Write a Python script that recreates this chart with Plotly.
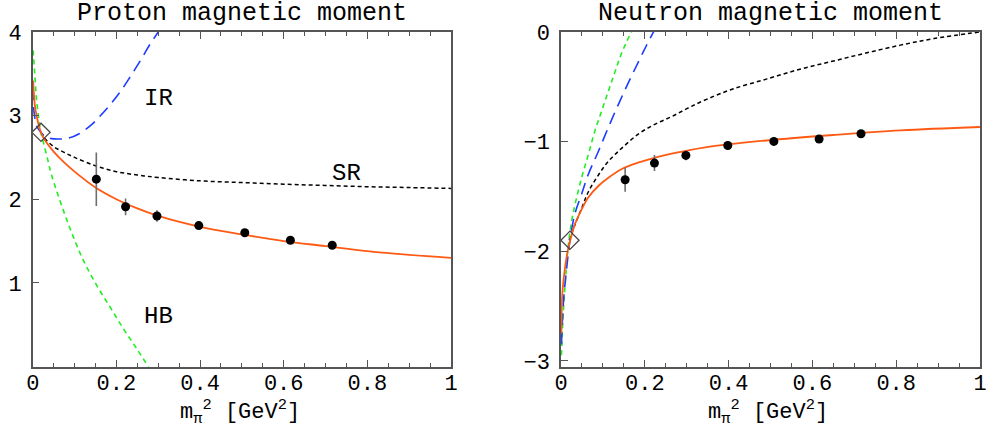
import plotly.graph_objects as go

# ---------------- Proton (left panel) ----------------
p_fit_x = [0.001, 0.005, 0.01, 0.0195, 0.03, 0.05, 0.075, 0.1, 0.15, 0.2, 0.25, 0.3, 0.4, 0.5, 0.6, 0.7, 0.8, 0.9, 1.0]
p_fit_y = [3.42, 3.13, 2.98, 2.80, 2.70, 2.57, 2.44, 2.33, 2.14, 2.00, 1.89, 1.80, 1.67, 1.58, 1.50, 1.44, 1.38, 1.335, 1.30]

p_ir_x = [0.001, 0.003, 0.01, 0.0195, 0.03, 0.045, 0.06, 0.085, 0.11, 0.14, 0.16, 0.185, 0.21, 0.235, 0.26, 0.28, 0.303]
p_ir_y = [3.33, 3.05, 2.87, 2.80, 2.75, 2.725, 2.72, 2.73, 2.78, 2.89, 2.99, 3.13, 3.29, 3.48, 3.68, 3.85, 4.02]

p_hb_x = [0.001, 0.0055, 0.0095, 0.0195, 0.025, 0.037, 0.045, 0.073, 0.097, 0.121, 0.153, 0.185, 0.217, 0.249, 0.28]
p_hb_y = [3.78, 3.45, 3.17, 2.80, 2.69, 2.45, 2.29, 1.87, 1.55, 1.27, 0.97, 0.71, 0.45, 0.21, -0.03]

p_sr_x = [0.0195, 0.03, 0.05, 0.075, 0.1, 0.15, 0.2, 0.25, 0.3, 0.4, 0.5, 0.6, 0.7, 0.8, 0.9, 1.0]
p_sr_y = [2.80, 2.72, 2.63, 2.56, 2.50, 2.40, 2.33, 2.29, 2.26, 2.22, 2.20, 2.18, 2.165, 2.15, 2.14, 2.13]

p_lat_x = [0.152, 0.222, 0.297, 0.397, 0.507, 0.616, 0.716]
p_lat_y = [2.24, 1.91, 1.80, 1.685, 1.60, 1.51, 1.45]
p_lat_err = [0.32, 0.10, 0.07, 0.05, 0.03, 0.025, 0.02]

p_phys_x = [0.0198]
p_phys_y = [2.80]

# ---------------- Neutron (right panel) ----------------
n_fit_x = [0.001, 0.003, 0.0095, 0.0175, 0.0255, 0.033, 0.049, 0.065, 0.089, 0.113, 0.145, 0.185, 0.224, 0.264, 0.304, 0.368, 0.49, 0.65, 0.81, 1.0]
n_fit_y = [-2.75, -2.39, -2.15, -1.97, -1.85, -1.755, -1.62, -1.51, -1.405, -1.33, -1.25, -1.19, -1.147, -1.11, -1.08, -1.04, -0.99, -0.94, -0.898, -0.867]

n_hb_x = [0.001, 0.0056, 0.011, 0.0175, 0.0255, 0.033, 0.049, 0.065, 0.081, 0.097, 0.113, 0.129, 0.145, 0.17]
n_hb_y = [-2.95, -2.55, -2.24, -1.94, -1.72, -1.58, -1.33, -1.12, -0.90, -0.72, -0.54, -0.36, -0.19, 0.02]

n_ir_x = [0.001, 0.006, 0.0136, 0.021, 0.033, 0.049, 0.065, 0.089, 0.113, 0.137, 0.161, 0.185, 0.203, 0.222]
n_ir_y = [-2.85, -2.45, -2.15, -1.91, -1.66, -1.48, -1.30, -1.09, -0.87, -0.66, -0.46, -0.27, -0.13, 0.01]

n_sr_x = [0.0195, 0.03, 0.05, 0.065, 0.09, 0.113, 0.145, 0.185, 0.225, 0.265, 0.305, 0.35, 0.41, 0.49, 0.57, 0.65, 0.73, 0.81, 0.89, 1.0]
n_sr_y = [-1.90, -1.79, -1.60, -1.46, -1.30, -1.18, -1.06, -0.93, -0.84, -0.77, -0.69, -0.61, -0.52, -0.43, -0.34, -0.265, -0.19, -0.12, -0.06, 0.0]

n_lat_x = [0.153, 0.223, 0.298, 0.398, 0.508, 0.616, 0.716]
n_lat_y = [-1.348, -1.196, -1.126, -1.036, -0.998, -0.976, -0.928]
n_lat_err = [0.11, 0.073, 0.045, 0.04, 0.03, 0.02, 0.02]

n_phys_x = [0.0213]
n_phys_y = [-1.90]

x_tickvals = [0, 0.2, 0.4, 0.6, 0.8, 1]
x_ticktext = ["0", "0.2", "0.4", "0.6", "0.8", "1"]
p_y_tickvals = [1, 2, 3, 4]
n_y_tickvals = [0, -1, -2, -3]

FONT = "Liberation Mono"
ORANGE = "#ff5a14"
BLUE = "#1e3cff"
GREEN = "#22ee22"
FRAME = "#555555"

fig = go.Figure()


def add_panel(xa, ya, fit_x, fit_y, ir_x, ir_y, hb_x, hb_y, sr_x, sr_y,
              lat_x, lat_y, lat_err, ph_x, ph_y):
    common = dict(xaxis=xa, yaxis=ya, mode="lines", showlegend=False, hoverinfo="skip")
    fig.add_trace(go.Scatter(x=sr_x, y=sr_y, line=dict(color="black", width=1.5, dash="4px,3px", shape="spline"), **common))
    fig.add_trace(go.Scatter(x=hb_x, y=hb_y, line=dict(color=GREEN, width=1.6, dash="5px,4px", shape="spline"), **common))
    fig.add_trace(go.Scatter(x=ir_x, y=ir_y, line=dict(color=BLUE, width=1.6, dash="12px,7px", shape="spline"), **common))
    fig.add_trace(go.Scatter(x=fit_x, y=fit_y, line=dict(color=ORANGE, width=1.8, shape="spline"), **common))
    fig.add_trace(go.Scatter(
        x=lat_x, y=lat_y, xaxis=xa, yaxis=ya, mode="markers", showlegend=False,
        marker=dict(color="black", size=9),
        error_y=dict(type="data", array=lat_err, color="#6e6e6e", thickness=1.6, width=0),
    ))
    fig.add_trace(go.Scatter(
        x=ph_x, y=ph_y, xaxis=xa, yaxis=ya, mode="markers", showlegend=False,
        marker=dict(symbol="diamond-open", size=14, color="#444444", line=dict(width=1.3)),
        cliponaxis=False,
    ))


add_panel("x", "y", p_fit_x, p_fit_y, p_ir_x, p_ir_y, p_hb_x, p_hb_y, p_sr_x, p_sr_y,
          p_lat_x, p_lat_y, p_lat_err, p_phys_x, p_phys_y)
add_panel("x2", "y2", n_fit_x, n_fit_y, n_ir_x, n_ir_y, n_hb_x, n_hb_y, n_sr_x, n_sr_y,
          n_lat_x, n_lat_y, n_lat_err, n_phys_x, n_phys_y)

tickfont = dict(family=FONT, size=22, color="black")

xcommon = dict(range=[0, 1], tickvals=x_tickvals, ticktext=x_ticktext, ticks="inside", ticklen=7,
               tickcolor=FRAME, tickwidth=1.2, showline=True, linecolor=FRAME, linewidth=1.5,
               mirror="ticks", showgrid=False, zeroline=False, tickfont=tickfont, automargin=False,
               ticklabelstandoff=-5, ticklabeloverflow="allow",
               minor=dict(dtick=0.05, ticks="inside", ticklen=4, tickcolor=FRAME, tickwidth=1, showgrid=False))
ycommon = dict(ticks="inside", ticklen=7, tickcolor=FRAME, tickwidth=1.2, showline=True, linecolor=FRAME,
               linewidth=1.5, mirror=True, showgrid=False, zeroline=False, tickfont=tickfont,
               automargin=False, ticklabelstandoff=5, ticklabeloverflow="allow")
yright = dict(ticks="inside", ticklen=7, tickcolor=FRAME, tickwidth=1.2, showline=False, showgrid=False,
              zeroline=False, showticklabels=False, side="right", automargin=False,
              minor=dict(dtick=0.1, ticks="inside", ticklen=4, tickcolor=FRAME, tickwidth=1, showgrid=False))

dom_y = [0.1555, 0.9263]
fig.update_layout(
    width=986, height=434,
    margin=dict(l=0, r=0, t=0, b=0, autoexpand=False),
    paper_bgcolor="white", plot_bgcolor="white",
    xaxis=dict(domain=[0.0332, 0.4574], anchor="y", **xcommon),
    yaxis=dict(domain=dom_y, anchor="x", range=[0, 4], tickvals=p_y_tickvals, **ycommon),
    xaxis2=dict(domain=[0.5690, 0.9939], anchor="y2", **xcommon),
    yaxis2=dict(domain=dom_y, anchor="x2", range=[-3.052, 0], tickvals=n_y_tickvals, **ycommon),
    yaxis3=dict(overlaying="y", anchor="x", range=[0, 4], dtick=1, **yright),
    yaxis4=dict(overlaying="y2", anchor="x2", range=[-3.052, 0], dtick=1, **yright),
)

ann = []
ann.append(dict(text="Proton magnetic moment", x=0.2454, y=0.968, xref="paper", yref="paper",
                showarrow=False, font=dict(family=FONT, size=25, color="black"), xanchor="center", yanchor="middle"))
ann.append(dict(text="Neutron magnetic moment", x=0.7814, y=0.968, xref="paper", yref="paper",
                showarrow=False, font=dict(family=FONT, size=25, color="black"), xanchor="center", yanchor="middle"))
xlabel = "m<sub>π</sub><sup>2</sup> [GeV<sup>2</sup>]"
ann.append(dict(text=xlabel, x=0.2434, y=0.050, xref="paper", yref="paper", showarrow=False,
                font=dict(family=FONT, size=22, color="black"), xanchor="center", yanchor="middle"))
ann.append(dict(text=xlabel, x=0.7784, y=0.050, xref="paper", yref="paper", showarrow=False,
                font=dict(family=FONT, size=22, color="black"), xanchor="center", yanchor="middle"))
for txt, xx, yy in [("IR", 0.30, 3.21), ("SR", 0.75, 2.31), ("HB", 0.30, 0.60)]:
    ann.append(dict(text=txt, x=xx, y=yy, xref="x", yref="y", showarrow=False,
                    font=dict(family=FONT, size=24, color="black"), xanchor="center", yanchor="middle"))
fig.update_layout(annotations=ann)

fig.write_html("out.html", config={"displayModeBar": False},
               post_script="document.body.style.margin='0px';")
